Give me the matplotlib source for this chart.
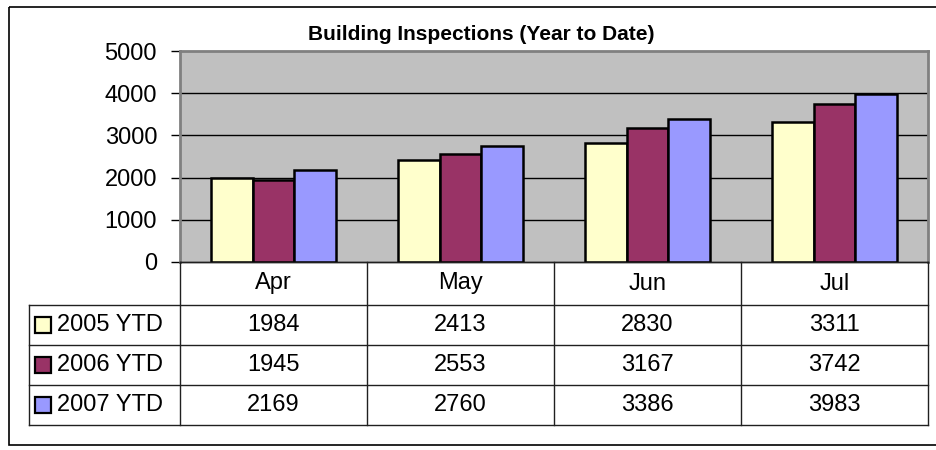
import numpy as np
import matplotlib.pyplot as plt
from matplotlib.patches import Rectangle

plt.rcParams['font.family'] = ['Liberation Sans', 'DejaVu Sans']

# datos
meses = ["Apr", "May", "Jun", "Jul"]
series = ["2005 YTD", "2006 YTD", "2007 YTD"]
v2005 = [1984, 2413, 2830, 3311]
v2006 = [1945, 2553, 3167, 3742]
v2007 = [2169, 2760, 3386, 3983]
valores = [v2005, v2006, v2007]
colores = ["#FFFFCC", "#993366", "#9999FF"]
yticks = [0, 1000, 2000, 3000, 4000, 5000]

W, H = 937, 450
fig = plt.figure(figsize=(W / 100, H / 100), dpi=100)

# pixeles de la figura
x0, x1 = 180, 928
y_top, y_zero = 51, 262
ax = fig.add_axes([x0 / W, 1 - y_zero / H, (x1 - x0) / W, (y_zero - y_top) / H])
ax.set_facecolor("#C0C0C0")

x = np.arange(len(meses))
ancho = 0.223
for i, (vals, c) in enumerate(zip(valores, colores)):
    ax.bar(x + (i - 1) * ancho, vals, ancho, color=c, edgecolor="black", linewidth=1.8, zorder=3)

ax.set_xlim(-0.5, len(meses) - 0.5)
ax.set_ylim(0, 5000)
ax.set_yticks(yticks)
ax.set_yticklabels([str(t) for t in yticks], fontsize=17)
ax.set_xticks([])
ax.tick_params(axis="y", direction="out", length=6.5, width=1, pad=10)
for t in yticks[1:-1]:
    ax.axhline(t, color="black", linewidth=1, zorder=1)
for s in ["left", "top", "right"]:
    ax.spines[s].set_color("#808080")
    ax.spines[s].set_linewidth(2)
ax.spines["bottom"].set_color("black")
ax.spines["bottom"].set_linewidth(1)

# tabla de datos
tab = fig.add_axes([0, 0, 1, 1])
tab.set_xlim(0, W)
tab.set_ylim(H, 0)
tab.axis("off")

# titulo centrado en el grafico completo
tab.text(481, 34, "Building Inspections (Year to Date)", ha="center", va="center",
         fontsize=15, fontweight="bold")

filas = [262, 305, 345, 385, 425]
cols = np.linspace(x0, x1, len(meses) + 1)
leg_x = 29
lc = "#202020"

# lineas horizontales
tab.plot([x0, x1], [filas[0], filas[0]], color=lc, lw=1)
for yy in filas[1:]:
    tab.plot([leg_x, x1], [yy, yy], color=lc, lw=1)
# lineas verticales
tab.plot([leg_x, leg_x], [filas[1], filas[-1]], color=lc, lw=1)
for cx in cols:
    tab.plot([cx, cx], [filas[0], filas[-1]], color=lc, lw=1)

# encabezados
for j, m in enumerate(meses):
    tab.text((cols[j] + cols[j + 1]) / 2, (filas[0] + filas[1]) / 2, m,
             ha="center", va="center", fontsize=17)

# filas con valores
for i, (nombre, vals, c) in enumerate(zip(series, valores, colores)):
    yc = (filas[i + 1] + filas[i + 2]) / 2
    tab.add_patch(Rectangle((35, yc - 8), 16, 16, facecolor=c, edgecolor="black", lw=1.6))
    tab.text(57, yc, nombre, ha="left", va="center", fontsize=17)
    for j, v in enumerate(vals):
        tab.text((cols[j] + cols[j + 1]) / 2, yc, str(v), ha="center", va="center", fontsize=17)

# borde exterior
tab.add_patch(Rectangle((9, 7), 940, 438, facecolor="none", edgecolor="black", lw=1.2))

plt.savefig("out.png", dpi=100)
